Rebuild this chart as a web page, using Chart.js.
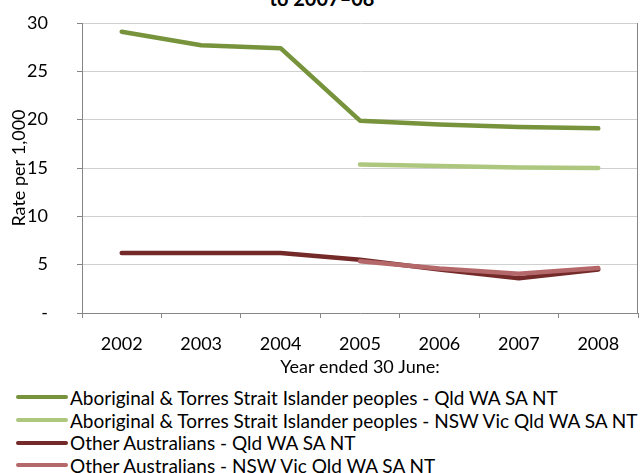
<!DOCTYPE html>
<html>
<head>
<meta charset="utf-8">
<script src="https://cdn.jsdelivr.net/npm/chart.js@4"></script>
<style>
    body { margin: 0; background: #ffffff; font-family: Lato, sans-serif; }
    #wrap { position: relative; width: 641px; height: 473px; overflow: hidden; }
    #title { position: absolute; left: 0; width: 644px; top: -12px; text-align: center; font-weight: bold; font-size: 20px; line-height: 20px; color: #000; }
    #box { position: absolute; left: 0; top: 0; width: 641px; height: 380px; }
    #legend { position: absolute; left: 0; top: 386px; }
    .row { display: flex; align-items: center; height: 22.7px; font-size: 19px; color: #000; white-space: nowrap; }
    .swatch { width: 52px; height: 4px; margin-left: 16px; margin-right: 2px; border-radius: 2px; }
</style>
</head>
<body>
<div id="wrap">
    <div id="title">to 2007–08</div>
    <div id="box"><canvas id="rateChart"></canvas></div>
    <div id="legend"></div>
</div>
<script>
// Dữ liệu
const years = ['2002', '2003', '2004', '2005', '2006', '2007', '2008'];
const seriesNames = [
    'Aboriginal & Torres Strait Islander peoples - Qld WA SA NT',
    'Aboriginal & Torres Strait Islander peoples - NSW Vic Qld WA SA NT',
    'Other Australians - Qld WA SA NT',
    'Other Australians - NSW Vic Qld WA SA NT'
];
const indigQldWaSaNt = [29.1, 27.7, 27.4, 19.9, 19.5, 19.25, 19.1];
const indigAllStates = [null, null, null, 15.35, 15.2, 15.05, 15.0];
const otherQldWaSaNt = [6.2, 6.2, 6.2, 5.5, 4.5, 3.6, 4.5];
const otherAllStates = [null, null, null, 5.35, 4.6, 4.05, 4.65];
const yTicks = [0, 5, 10, 15, 20, 25, 30];

const colors = ['#77933C', '#AEC77F', '#732A28', '#B5686A'];
const allValues = [indigQldWaSaNt, indigAllStates, otherQldWaSaNt, otherAllStates];

// Khung bên phải của vùng vẽ
const rightBorder = {
    id: 'rightBorder',
    afterDraw: function(chart) {
        const a = chart.chartArea;
        const c = chart.ctx;
        c.save();
        c.strokeStyle = '#868686';
        c.lineWidth = 1;
        c.beginPath();
        c.moveTo(a.right - 0.5, a.top);
        c.lineTo(a.right - 0.5, a.bottom);
        c.stroke();
        c.restore();
    }
};

document.addEventListener('DOMContentLoaded', function() {
    const ctx = document.getElementById('rateChart');
    const font = { family: 'Lato', size: 18 };

    new Chart(ctx, {
        type: 'line',
        data: {
            labels: years,
            datasets: allValues.map(function(vals, i) {
                return {
                    label: seriesNames[i],
                    data: vals,
                    borderColor: colors[i],
                    backgroundColor: colors[i],
                    borderWidth: 4.5,
                    borderCapStyle: 'round',
                    borderJoinStyle: 'round',
                    pointRadius: 0,
                    tension: 0,
                    spanGaps: false,
                    order: 3 - i
                };
            })
        },
        options: {
            responsive: true,
            maintainAspectRatio: false,
            animation: false,
            layout: { padding: { left: 0, right: 3, top: 23, bottom: 2 } },
            plugins: {
                legend: { display: false },
                tooltip: { enabled: false }
            },
            scales: {
                x: {
                    offset: true,
                    afterFit: function(scale) { scale.height = 65; },
                    grid: {
                        offset: true,
                        drawOnChartArea: false,
                        drawTicks: true,
                        tickLength: 5,
                        tickColor: '#868686'
                    },
                    border: { color: '#868686' },
                    ticks: { color: '#000', font: font, padding: 15, maxRotation: 0 },
                    title: {
                        display: true,
                        text: 'Year ended 30 June:',
                        color: '#000',
                        font: font,
                        padding: { top: 1, bottom: 0 }
                    }
                },
                y: {
                    min: 0,
                    max: 30,
                    afterBuildTicks: function(scale) {
                        scale.ticks = yTicks.map(function(v) { return { value: v }; });
                    },
                    afterFit: function(scale) {
                        scale.width = 82;
                        scale.paddingTop = 11;
                        scale.paddingBottom = 11;
                    },
                    grid: {
                        color: '#D0D0D0',
                        tickColor: '#868686',
                        tickLength: 5
                    },
                    border: { color: '#868686' },
                    ticks: {
                        color: '#000',
                        font: font,
                        padding: 29,
                        callback: function(v) { return v === 0 ? '-' : v; }
                    },
                    title: {
                        display: true,
                        text: 'Rate per 1,000',
                        color: '#000',
                        font: font,
                        padding: { top: 8, bottom: 0 }
                    }
                }
            }
        },
        plugins: [rightBorder]
    });

    // Chú giải
    const legend = document.getElementById('legend');
    seriesNames.forEach(function(name, i) {
        const row = document.createElement('div');
        row.className = 'row';
        const sw = document.createElement('span');
        sw.className = 'swatch';
        sw.style.background = colors[i];
        const txt = document.createElement('span');
        txt.textContent = name;
        row.appendChild(sw);
        row.appendChild(txt);
        legend.appendChild(row);
    });
});
</script>
</body>
</html>
